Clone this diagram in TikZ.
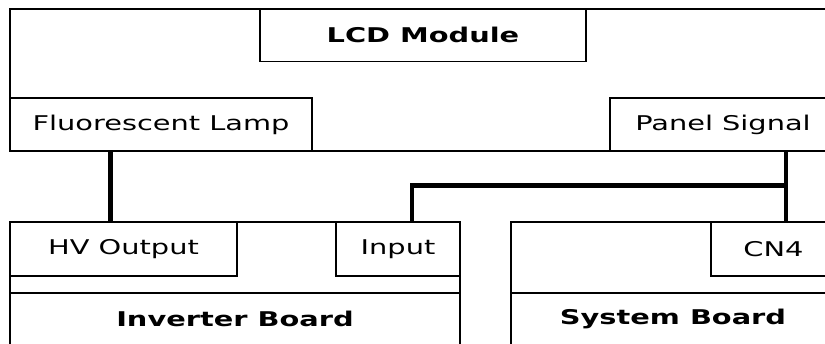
\documentclass[tikz,border=0pt]{standalone}
\usepackage{fontspec}
\setmainfont{DejaVu Sans}[FakeStretch=1.42]
\begin{document}
\begin{tikzpicture}[x=1pt,y=-1pt,
  box/.style={draw=black, line width=1.4pt, inner sep=0pt, outer sep=0pt, anchor=north west, font=\fontsize{20.3}{24}\selectfont},
  conn/.style={draw=black, line width=4.2pt},
  thin/.style={draw=black, line width=1.4pt},
  lbl/.style={inner sep=0pt, font=\fontsize{20.3}{24}\selectfont\bfseries}]
\clip (0,0) rectangle (825,343);
\fill[white] (0,0) rectangle (825,343);
% LCD module
\node[box, minimum width=826pt, minimum height=142pt] (lcd) at (10,9) {};
\node[box, minimum width=326pt, minimum height=52.5pt] (title) at (260,9) {\bfseries LCD Module};
\node[box, minimum width=302pt, minimum height=53pt] (fl) at (10,98) {Fluorescent Lamp};
\node[box, minimum width=226pt, minimum height=53pt] (ps) at (610,98) {Panel Signal};
% Inverter board
\node[box, minimum width=450pt, minimum height=128pt] (inv) at (10,222) {};
\node[box, minimum width=227pt, minimum height=54pt] (hv) at (10,222) {HV Output};
\node[box, minimum width=124pt, minimum height=54pt] (in) at (336,222) {Input};
\draw[thin] (inv.west |- 0,293) -- (inv.east |- 0,293);
\node[lbl] (invl) at (235,318.5) {Inverter Board};
% System board
\node[box, minimum width=325pt, minimum height=128pt] (sys) at (511,222) {};
\node[box, minimum width=125pt, minimum height=54pt] (cn) at (711,222) {CN4};
\draw[thin] (sys.west |- 0,293) -- (sys.east |- 0,293);
\node[lbl] (sysl) at (673,318.5) {System Board};
% connectors
\coordinate (xa) at (110.5,0);
\coordinate (xb) at (785.8,0);
\coordinate (xc) at (412,0);
\coordinate (jn) at (785.8,185.4);
\draw[conn] (fl.south -| xa) -- (hv.north -| xa);
\draw[conn] (ps.south -| xb) -- (cn.north -| xb);
\draw[conn] (jn) -- (jn -| xc) -- (in.north -| xc);
\end{tikzpicture}
\end{document}
